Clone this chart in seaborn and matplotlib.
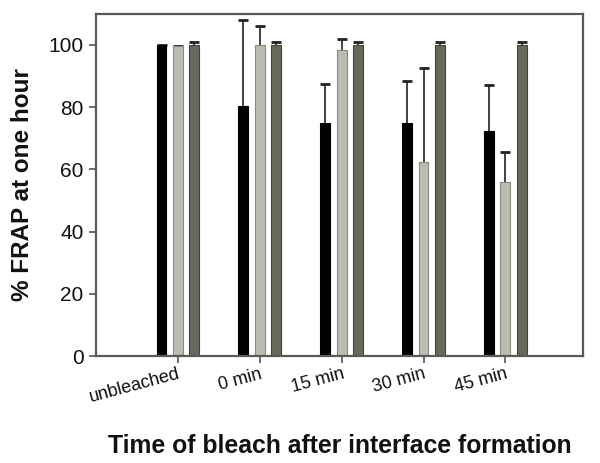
import matplotlib
matplotlib.use("Agg")
import matplotlib.pyplot as plt
import pandas as pd
import seaborn as sns

# values
times = ["unbleached", "0 min", "15 min", "30 min", "45 min"]
series = ["A", "B", "C"]
values_a = [100, 80.5, 75, 75, 72.5]
values_b = [99.8, 100, 98.3, 62.5, 56]
values_c = [100, 100, 100, 100, 100]
err_a = [0, 27.5, 12.5, 13.5, 14.5]
err_b = [0, 6, 3.5, 30, 9.5]
err_c = [1, 1, 1, 1, 1]

sns.set_theme(style="white")
plt.rcParams["font.family"] = ["Liberation Sans", "DejaVu Sans"]

df = pd.DataFrame({
    "time": times * 3,
    "series": [s for s in series for _ in times],
    "value": values_a + values_b + values_c,
    "err": err_a + err_b + err_c,
})

colors = ["#000000", "#bdbeae", "#6b6a58"]
edges = ["#000000", "#8a8a80", "#45443a"]

fig, ax = plt.subplots(figsize=(6, 4.63), dpi=100)
fig.subplots_adjust(left=0.16, right=0.972, bottom=0.231, top=0.97)

sns.barplot(data=df, x="time", y="value", hue="series", order=times,
            hue_order=series, palette=colors, errorbar=None,
            width=0.6, gap=0.4, legend=False, ax=ax)

# edges + upper-only error bars, placed from the drawn bars
for cont, s, ec in zip(ax.containers, series, edges):
    sub = df[df["series"] == s].set_index("time").loc[times]
    xs, ys, es = [], [], []
    for bar, (_, row) in zip(cont, sub.iterrows()):
        bar.set_edgecolor(ec)
        bar.set_linewidth(0.8)
        bar.set_zorder(2)
        xs.append(bar.get_x() + bar.get_width() / 2)
        ys.append(row["value"])
        es.append(row["err"])
    eb = ax.errorbar(xs, ys, yerr=[[0] * len(es), es], fmt="none",
                     ecolor="#222222", elinewidth=1.2, capsize=3.3,
                     capthick=2.0, zorder=1)
    # hide the cap sitting on the bar top
    eb[1][0].set_visible(False)

ax.set_xlim(-1.0, 4.95)
ax.set_ylim(0, 110)
ax.set_yticks([0, 20, 40, 60, 80, 100])

for sp in ax.spines.values():
    sp.set_color("#5a5a5a")
    sp.set_linewidth(1.6)

ax.tick_params(axis="both", which="both", direction="out", length=5,
               width=1.2, color="#555555", left=True, bottom=True)
ax.tick_params(axis="y", labelsize=15, pad=4, labelcolor="#111111")
ax.tick_params(axis="x", labelsize=13, pad=2, labelcolor="#111111")
plt.setp(ax.get_xticklabels(), rotation=15, ha="right", rotation_mode="anchor")

ax.set_xlabel("Time of bleach after interface formation", fontsize=17.8,
              fontweight="bold", labelpad=20, color="#111111")
ax.set_ylabel("% FRAP at one hour", fontsize=17.5, fontweight="bold",
              labelpad=10, color="#111111")

fig.savefig("out.png", dpi=100)
